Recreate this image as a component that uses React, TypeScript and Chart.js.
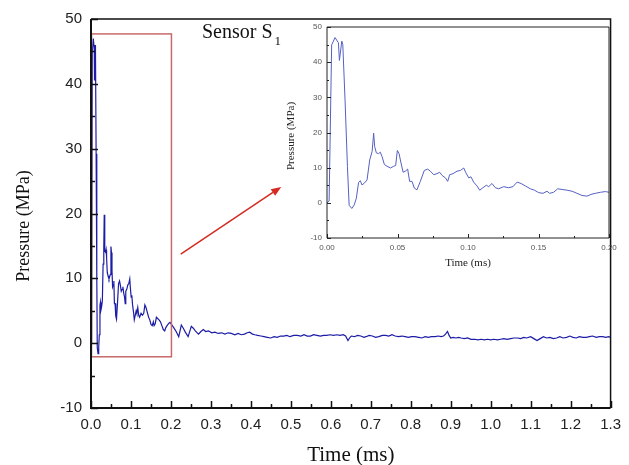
import React, { useEffect, useRef } from "react";
import { Chart, registerables } from "chart.js";
Chart.register(...registerables);

// ---- data (time in ms, pressure in MPa) ----
const TIME_MS = [
  0, 0.0015, 0.0033, 0.0057, 0.0081, 0.0088, 0.0105, 0.0112, 0.0128, 0.0145,
  0.0157, 0.0176, 0.0193, 0.0208, 0.0224, 0.0236, 0.0248, 0.0265, 0.0284, 0.0303,
  0.032, 0.0331, 0.0338, 0.035, 0.0366, 0.0378, 0.039, 0.0407, 0.0426, 0.045,
  0.0473, 0.0487, 0.0499, 0.0511, 0.0525, 0.054, 0.0556, 0.0572, 0.0586, 0.0603,
  0.0619, 0.0638, 0.0662, 0.069, 0.0714, 0.0733, 0.0757, 0.078, 0.0799, 0.0816,
  0.084, 0.0856, 0.087, 0.0894, 0.0922, 0.0946, 0.097, 0.0983, 0.1005, 0.1021,
  0.104, 0.1064, 0.1083, 0.1106, 0.113, 0.1147, 0.117, 0.1194, 0.1217, 0.1253,
  0.1288, 0.1319, 0.1348, 0.1376, 0.1407, 0.1442, 0.1471, 0.1501, 0.1532, 0.156,
  0.1579, 0.1607, 0.1636, 0.1667, 0.1702, 0.1738, 0.1773, 0.1809, 0.1844, 0.1872,
  0.1903, 0.1939, 0.1974, 0.2,
  0.207, 0.213, 0.2195, 0.226, 0.231, 0.236, 0.243, 0.251, 0.256, 0.261,
  0.269, 0.275, 0.281, 0.287, 0.294, 0.302, 0.31, 0.318, 0.327, 0.335,
  0.343, 0.351, 0.36, 0.368, 0.376, 0.384, 0.391, 0.397, 0.404, 0.41,
  0.417, 0.425, 0.433, 0.441, 0.45, 0.458, 0.466, 0.474, 0.482, 0.49,
  0.498, 0.507, 0.516, 0.525, 0.533, 0.541, 0.549, 0.557, 0.565, 0.574,
  0.582, 0.59, 0.598, 0.607, 0.615, 0.623, 0.631, 0.637, 0.643, 0.647,
  0.651, 0.659, 0.667, 0.675, 0.683, 0.688, 0.696, 0.704, 0.712, 0.72,
  0.729, 0.737, 0.745, 0.753, 0.761, 0.769, 0.778, 0.786, 0.794, 0.802,
  0.81, 0.82, 0.828, 0.836, 0.844, 0.852, 0.861, 0.869, 0.876, 0.882,
  0.887, 0.892, 0.896, 0.9, 0.906, 0.913, 0.92, 0.926, 0.934, 0.942,
  0.951, 0.96, 0.968, 0.976, 0.984, 0.992, 1.0, 1.008, 1.017, 1.025,
  1.033, 1.041, 1.05, 1.058, 1.067, 1.075, 1.083, 1.09, 1.1, 1.108,
  1.116, 1.124, 1.132, 1.14, 1.148, 1.157, 1.165, 1.173, 1.181, 1.19,
  1.198, 1.206, 1.214, 1.222, 1.231, 1.239, 1.247, 1.255, 1.264, 1.272,
  1.28, 1.288, 1.295, 1.3,
];

const PRESSURE_MPA = [
  0, 0.5, 44.9, 47, 45.5, 40.5, 46, 45, 29.2, 10.3,
  -0.7, -1.6, -0.6, 1.3, 5.8, 6.3, 5.1, 5.6, 6.5, 12.2,
  14.6, 19.8, 16, 14.2, 14, 14.4, 13.2, 10.9, 10.4, 9.9,
  10.4, 10.6, 14.9, 14, 11.3, 8.7, 9, 9.6, 6.1, 6.1,
  4.2, 3.7, 6.1, 9.2, 9.6, 9, 8, 8.3, 8.7, 7.8,
  7.1, 6.1, 8, 8.3, 9, 9.2, 9.9, 8.7, 7.1, 7.4,
  5.9, 4.8, 3.6, 4.3, 5, 4.6, 5.5, 4.3, 4, 4.6,
  4.3, 4.6, 5.9, 5.5, 4.8, 4, 3.6, 2.9, 2.7, 3.3,
  2.7, 3, 4, 3.8, 3.6, 3.3, 2.7, 2.1, 1.9, 2.4,
  2.7, 3, 3.2, 3,
  2.4, 1.8, 1.0, 2.8, 2.3, 1.7, 1.0, 2.6, 2.3, 1.9,
  1.4, 1.8, 2.1, 1.8, 1.9, 1.6, 1.7, 1.5, 1.6, 1.4,
  1.6, 1.5, 1.3, 1.5, 1.3, 1.4, 1.6, 1.7, 1.4, 1.3,
  1.2, 1.1, 1.0, 0.9, 0.8, 1.0, 0.9, 1.1, 1.1, 1.2,
  1.0, 1.2, 1.2, 1.1, 1.3, 1.1, 1.1, 1.3, 1.2, 1.1,
  1.2, 1.2, 1.3, 1.2, 1.3, 1.2, 1.3, 1.1, 0.4, 0.8,
  1.1, 1.0, 1.2, 1.1, 0.9, 1.0, 1.2, 1.1, 0.9, 1.0,
  1.2, 1.2, 1.1, 1.3, 1.1, 1.0, 1.1, 1.0, 0.9, 1.0,
  1.0, 0.9, 0.8, 1.0, 0.9, 1.0, 1.0, 1.1, 1.0, 1.1,
  1.4, 1.8, 1.2, 0.8, 0.9, 0.8, 0.9, 0.8, 0.7, 0.8,
  0.6, 0.6, 0.5, 0.6, 0.5, 0.6, 0.5, 0.6, 0.5, 0.6,
  0.7, 0.6, 0.7, 0.8, 0.8, 0.7, 0.9, 0.8, 1.0, 0.7,
  0.4, 0.7, 1.0, 0.8, 0.9, 0.7, 0.8, 1.0, 0.8, 0.9,
  1.1, 0.9, 0.8, 1.0, 0.9, 0.9, 1.0, 1.1, 0.9, 1.0,
  1.0, 0.9, 1.0, 0.9,
];

// axis ranges / tick steps
const MAIN_X_RANGE = [0, 1.3];
const MAIN_Y_RANGE = [-10, 50];
const INSET_X_RANGE = [0, 0.2];
const INSET_Y_RANGE = [-10, 50];

// texts
const TITLE_MAIN = "Sensor S";
const TITLE_SUB = "1";
const X_LABEL = "Time (ms)";
const Y_LABEL = "Pressure (MPa)";

// zoom-box (data units of the main chart) and arrow (data units)
const ZOOM_BOX = { x0: 0, x1: 0.2, y0: -2.1, y1: 47.7 };
const ARROW = { x0: 0.2245, y0: 13.75, x1: 0.476, y1: 24.1 };

type TickCfg = { major: number; minor: number; width: number; color: string };

function inwardTicks(cfg: TickCfg) {
  return {
    id: "inwardTicks",
    afterDatasetsDraw(chart: any) {
      const { ctx, chartArea: a } = chart;
      const xs = chart.scales.x;
      const ys = chart.scales.y;
      ctx.save();
      ctx.strokeStyle = cfg.color;
      ctx.lineWidth = cfg.width;
      const xv = xs.ticks.map((t: any) => t.value);
      const yv = ys.ticks.map((t: any) => t.value);
      const drawX = (v: number, len: number) => {
        const p = Math.round(xs.getPixelForValue(v)) + 0.5;
        ctx.beginPath();
        ctx.moveTo(p, a.bottom);
        ctx.lineTo(p, a.bottom - len);
        ctx.stroke();
      };
      const drawY = (v: number, len: number) => {
        const p = Math.round(ys.getPixelForValue(v)) + 0.5;
        ctx.beginPath();
        ctx.moveTo(a.left, p);
        ctx.lineTo(a.left + len, p);
        ctx.stroke();
      };
      xv.forEach((v: number, i: number) => {
        drawX(v, cfg.major);
        if (i < xv.length - 1) drawX((v + xv[i + 1]) / 2, cfg.minor);
      });
      yv.forEach((v: number, i: number) => {
        drawY(v, cfg.major);
        if (i < yv.length - 1) drawY((v + yv[i + 1]) / 2, cfg.minor);
      });
      ctx.restore();
    },
  };
}

function frame(leftBottom: number, topRight: number, color: string) {
  return {
    id: "frame",
    afterDatasetsDraw(chart: any) {
      const { ctx, chartArea: a } = chart;
      ctx.save();
      ctx.strokeStyle = color;
      ctx.lineWidth = topRight;
      ctx.beginPath();
      ctx.moveTo(a.left, a.top);
      ctx.lineTo(a.right, a.top);
      ctx.lineTo(a.right, a.bottom);
      ctx.stroke();
      ctx.lineWidth = leftBottom;
      ctx.beginPath();
      ctx.moveTo(a.left, a.top);
      ctx.lineTo(a.left, a.bottom);
      ctx.lineTo(a.right, a.bottom);
      ctx.stroke();
      ctx.restore();
    },
  };
}

const mainDeco = {
  id: "mainDeco",
  afterDatasetsDraw(chart: any) {
    const { ctx } = chart;
    const xs = chart.scales.x;
    const ys = chart.scales.y;
    ctx.save();
    // zoom box
    const bx0 = xs.getPixelForValue(ZOOM_BOX.x0);
    const bx1 = xs.getPixelForValue(ZOOM_BOX.x1);
    const by0 = ys.getPixelForValue(ZOOM_BOX.y0);
    const by1 = ys.getPixelForValue(ZOOM_BOX.y1);
    ctx.strokeStyle = "#c86a6a";
    ctx.lineWidth = 1.5;
    ctx.strokeRect(bx0 + 0.5, by1, bx1 - bx0, by0 - by1);
    // arrow
    const ax0 = xs.getPixelForValue(ARROW.x0);
    const ay0 = ys.getPixelForValue(ARROW.y0);
    const ax1 = xs.getPixelForValue(ARROW.x1);
    const ay1 = ys.getPixelForValue(ARROW.y1);
    const ang = Math.atan2(ay1 - ay0, ax1 - ax0);
    const hl = 10;
    const hw = 4;
    ctx.strokeStyle = "#d42a22";
    ctx.fillStyle = "#d42a22";
    ctx.lineWidth = 1.5;
    ctx.beginPath();
    ctx.moveTo(ax0, ay0);
    ctx.lineTo(ax1 - hl * Math.cos(ang), ay1 - hl * Math.sin(ang));
    ctx.stroke();
    ctx.beginPath();
    ctx.moveTo(ax1, ay1);
    ctx.lineTo(
      ax1 - hl * Math.cos(ang) + hw * Math.sin(ang),
      ay1 - hl * Math.sin(ang) - hw * Math.cos(ang)
    );
    ctx.lineTo(
      ax1 - hl * Math.cos(ang) - hw * Math.sin(ang),
      ay1 - hl * Math.sin(ang) + hw * Math.cos(ang)
    );
    ctx.closePath();
    ctx.fill();
    ctx.restore();
  },
  afterDraw(chart: any) {
    const { ctx, chartArea: a } = chart;
    ctx.save();
    ctx.fillStyle = "#111";
    // title
    ctx.font = "20px 'Liberation Serif'";
    ctx.textAlign = "left";
    ctx.textBaseline = "alphabetic";
    ctx.fillText(TITLE_MAIN, 202, 38);
    const w = ctx.measureText(TITLE_MAIN).width;
    ctx.font = "13px 'Liberation Serif'";
    ctx.fillText(TITLE_SUB, 202 + w + 2, 45);
    // x label
    ctx.font = "21px 'Liberation Serif'";
    ctx.textAlign = "center";
    ctx.fillText(X_LABEL, (a.left + a.right) / 2, 461);
    // y label
    ctx.translate(24, 226);
    ctx.rotate(-Math.PI / 2);
    ctx.font = "18px 'Liberation Serif'";
    ctx.textBaseline = "middle";
    ctx.fillText(Y_LABEL, 0, 0);
    ctx.restore();
  },
};

const insetDeco = {
  id: "insetDeco",
  afterDraw(chart: any) {
    const { ctx, chartArea: a } = chart;
    ctx.save();
    ctx.fillStyle = "#222";
    ctx.font = "11px 'Liberation Serif'";
    ctx.textAlign = "center";
    ctx.textBaseline = "middle";
    ctx.fillText(X_LABEL, (a.left + a.right) / 2, 263);
    ctx.translate(21, 136);
    ctx.rotate(-Math.PI / 2);
    ctx.fillText(Y_LABEL, 0, 0);
    ctx.restore();
  },
};

function points(maxT: number) {
  const pts: { x: number; y: number }[] = [];
  for (let i = 0; i < TIME_MS.length; i++) {
    if (TIME_MS[i] <= maxT + 1e-9) pts.push({ x: TIME_MS[i], y: PRESSURE_MPA[i] });
  }
  return pts;
}

export default function App() {
  const mainRef = useRef<HTMLCanvasElement>(null);
  const insetRef = useRef<HTMLCanvasElement>(null);

  useEffect(() => {
    const main = new Chart(mainRef.current!, {
      type: "line",
      data: {
        datasets: [
          {
            data: points(MAIN_X_RANGE[1]),
            borderColor: "#1c1ca6",
            borderWidth: 1.2,
            pointRadius: 0,
            tension: 0,
            fill: false,
          },
        ],
      },
      options: {
        responsive: false,
        maintainAspectRatio: false,
        devicePixelRatio: 1,
        animation: false,
        events: [],
        layout: { padding: { top: 19, right: 11, left: 0, bottom: 0 } },
        plugins: { legend: { display: false }, tooltip: { enabled: false } },
        scales: {
          x: {
            type: "linear",
            min: MAIN_X_RANGE[0],
            max: MAIN_X_RANGE[1],
            grid: { display: false, drawTicks: false },
            border: { display: false },
            ticks: {
              stepSize: 0.1,
              autoSkip: false,
              maxRotation: 0,
              padding: 8,
              color: "#222",
              font: { family: "'Liberation Sans'", size: 15 },
              callback: (v: any) => Number(v).toFixed(1),
            },
            afterFit: (s: any) => {
              s.height = 57;
            },
          },
          y: {
            type: "linear",
            min: MAIN_Y_RANGE[0],
            max: MAIN_Y_RANGE[1],
            grid: { display: false, drawTicks: false },
            border: { display: false },
            ticks: {
              stepSize: 10,
              padding: 9,
              color: "#222",
              font: { family: "'Liberation Sans'", size: 15 },
            },
            afterFit: (s: any) => {
              s.width = 91;
            },
          },
        },
      },
      plugins: [
        mainDeco,
        inwardTicks({ major: 7, minor: 4, width: 1.5, color: "#111" }),
        frame(2, 1.5, "#111"),
      ],
    } as any);

    const inset = new Chart(insetRef.current!, {
      type: "line",
      data: {
        datasets: [
          {
            data: points(INSET_X_RANGE[1]),
            borderColor: "#5560c4",
            borderWidth: 1,
            pointRadius: 0,
            tension: 0,
            fill: false,
          },
        ],
      },
      options: {
        responsive: false,
        maintainAspectRatio: false,
        devicePixelRatio: 1,
        animation: false,
        events: [],
        layout: { padding: { top: 27, right: 20, left: 0, bottom: 0 } },
        plugins: { legend: { display: false }, tooltip: { enabled: false } },
        scales: {
          x: {
            type: "linear",
            min: INSET_X_RANGE[0],
            max: INSET_X_RANGE[1],
            grid: { display: false, drawTicks: false },
            border: { display: false },
            ticks: {
              stepSize: 0.05,
              autoSkip: false,
              maxRotation: 0,
              padding: 5,
              color: "#555",
              font: { family: "'Liberation Sans'", size: 8 },
              callback: (v: any) => Number(v).toFixed(2),
            },
            afterFit: (s: any) => {
              s.height = 42;
            },
          },
          y: {
            type: "linear",
            min: INSET_Y_RANGE[0],
            max: INSET_Y_RANGE[1],
            grid: { display: false, drawTicks: false },
            border: { display: false },
            ticks: {
              stepSize: 10,
              padding: 5,
              color: "#555",
              font: { family: "'Liberation Sans'", size: 8 },
            },
            afterFit: (s: any) => {
              s.width = 57;
            },
          },
        },
      },
      plugins: [
        insetDeco,
        inwardTicks({ major: 4, minor: 2, width: 1, color: "#222" }),
        frame(1, 1, "#222"),
      ],
    } as any);

    return () => {
      main.destroy();
      inset.destroy();
    };
  }, []);

  return (
    <div style={{ position: "absolute", left: 0, top: 0, width: 629, height: 465, background: "#fff" }}>
      <canvas
        ref={mainRef}
        width={629}
        height={465}
        style={{ position: "absolute", left: 0, top: 0, width: 629, height: 465 }}
      />
      <canvas
        ref={insetRef}
        width={359}
        height={280}
        style={{ position: "absolute", left: 270, top: 0, width: 359, height: 280 }}
      />
    </div>
  );
}
